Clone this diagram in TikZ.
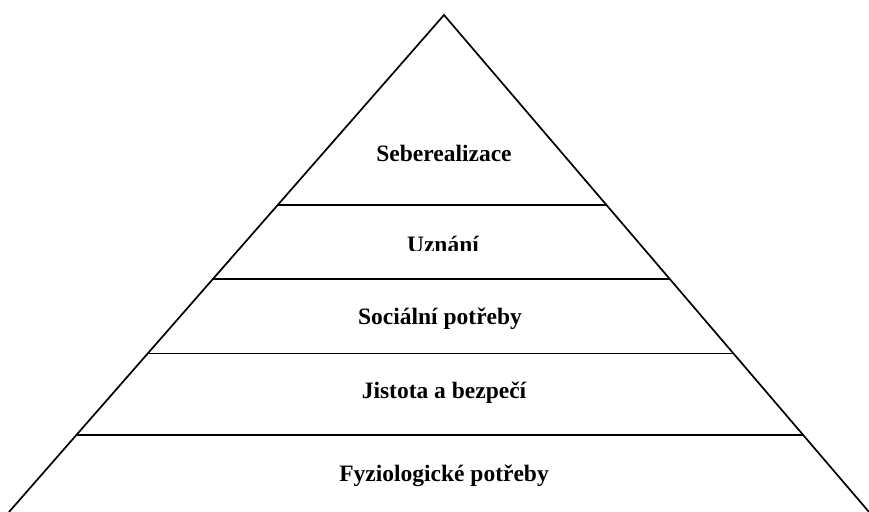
\documentclass[tikz,border=0pt]{standalone}
\usepackage{fontspec}
\setmainfont{Liberation Serif}
\usetikzlibrary{calc}
\begin{document}
\begin{tikzpicture}[x=1pt,y=1pt,
  edge/.style={line width=1.7pt,line cap=round},
  level/.style={font=\fontsize{23.5}{26}\selectfont\bfseries,anchor=base,inner sep=0pt}]
\useasboundingbox (0,0) rectangle (869,511);
% outline of the pyramid
\coordinate (apex) at (444,496);
\coordinate (bl) at (9,-1);
\coordinate (br) at (869,-1);
\draw[edge] (bl) -- (apex) -- (br);
% dividing lines between the levels
\foreach \t/\n in {0.3818/a,0.5313/b,0.6808/c,0.8444/d}{
  \coordinate (l\n) at ($(apex)!\t!(bl)$);
  \coordinate (r\n) at ($(apex)!\t!(br)$);
  \draw[edge] (l\n) -- (r\n);
}
% level labels
\node[level] (self) at (444,349) {Seberealizace};
\begin{scope}
  \clip (300,260.5) rectangle (600,290);
  \node[level] (esteem) at (443,258) {Uznání};
\end{scope}
\node[level] (social) at (440,186) {Sociální potřeby};
\node[level] (safety) at (444,112) {Jistota a bezpečí};
\node[level] (phys) at (444,30) {Fyziologické potřeby};
\end{tikzpicture}
\end{document}
